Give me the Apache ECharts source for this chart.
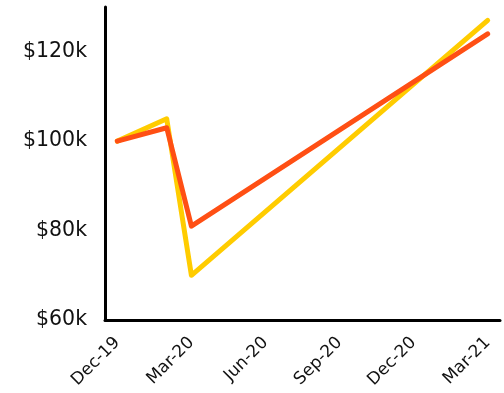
<!DOCTYPE html>
<html><head><meta charset="utf-8">
<script src="https://cdn.jsdelivr.net/npm/echarts@6/dist/echarts.min.js"></script>
<style>html,body{margin:0;padding:0;background:#fff}#c{width:504px;height:393px}</style>
</head><body><div id="c"></div>
<script>
const months = ['Dec-19','Jan-20','Feb-20','Mar-20','Apr-20','May-20','Jun-20','Jul-20','Aug-20','Sep-20','Oct-20','Nov-20','Dec-20','Jan-21','Feb-21','Mar-21'];
const yellowSeries = [100,null,105,70,null,null,null,null,null,null,null,null,null,null,null,127];
const orangeSeries = [100,null,103,81,null,null,null,null,null,null,null,null,null,null,null,124];
const yTicks = [60,80,100,120];

const chart = echarts.init(document.getElementById('c'));
chart.setOption({
  animation:false,
  grid:{left:105,right:4,top:7,bottom:73,containLabel:false},
  xAxis:{type:'category',data:months,boundaryGap:true,
    axisLine:{lineStyle:{color:'#000',width:3}},
    axisTick:{show:false},
    axisLabel:{interval:2,rotate:45,fontSize:17,color:'#111',fontFamily:'DejaVu Sans',margin:20}},
  yAxis:{type:'value',min:60,max:130,interval:20,
    axisLine:{show:true,lineStyle:{color:'#000',width:3}},
    axisTick:{show:false},splitLine:{show:false},
    axisLabel:{fontSize:20.5,color:'#111',fontFamily:'DejaVu Sans',margin:18,
      formatter:v=>yTicks.includes(v)?'$'+v+'k':''}},
  series:[
    {type:'line',data:yellowSeries,connectNulls:true,showSymbol:false,
     lineStyle:{color:'#FFCC00',width:5,cap:'round',join:'round'}},
    {type:'line',data:orangeSeries,connectNulls:true,showSymbol:false,
     lineStyle:{color:'#FF4F14',width:5,cap:'round',join:'round'}}
  ]
});
</script></body></html>
